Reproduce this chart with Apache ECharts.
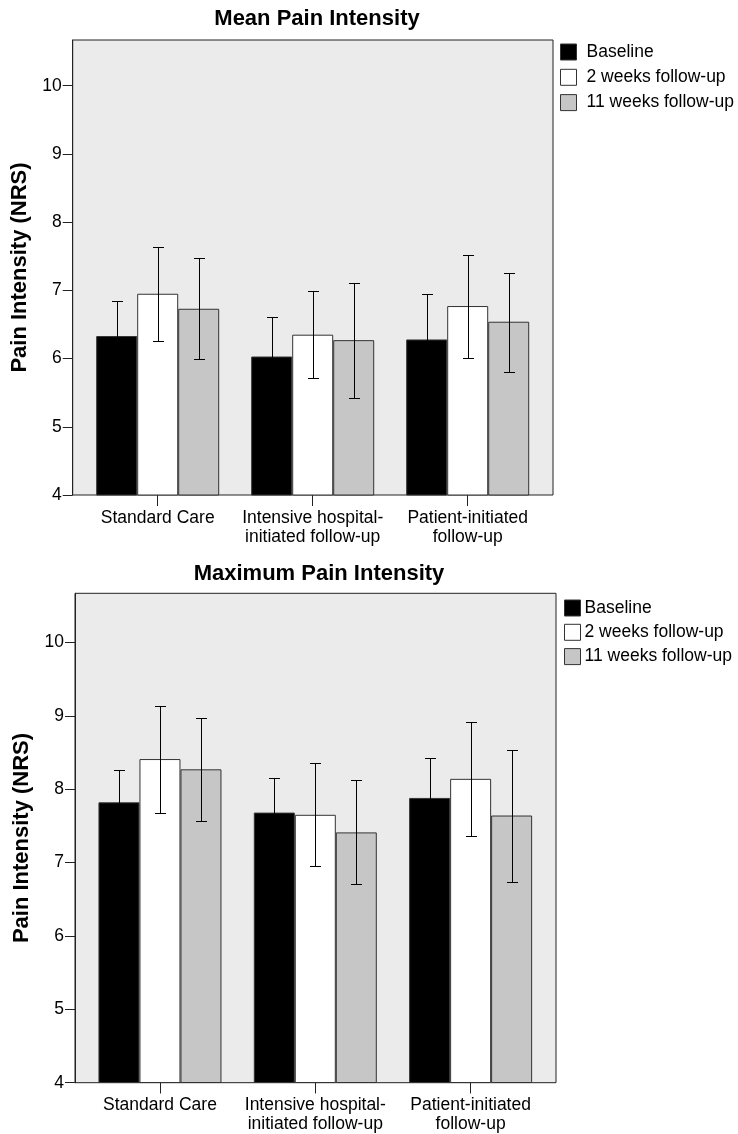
<!DOCTYPE html>
<html>
<head>
<meta charset="utf-8">
<script src="https://cdn.jsdelivr.net/npm/echarts@6/dist/echarts.min.js"></script>
<style>
  html, body { margin: 0; padding: 0; background: #fff; }
  #chart { width: 738px; height: 1134px; }
</style>
</head>
<body>
<div id="chart"></div>
<script>
// 資料
const categories = ['Standard Care', 'Intensive hospital-\ninitiated follow-up', 'Patient-initiated\nfollow-up'];
const seriesNames = ['Baseline', '2 weeks follow-up', '11 weeks follow-up'];
const yTicks = [4, 5, 6, 7, 8, 9, 10];

// Mean Pain Intensity
const meanBaseline = [6.33, 6.03, 6.28];
const meanWeek2 = [6.95, 6.35, 6.77];
const meanWeek11 = [6.73, 6.27, 6.54];
const meanBaselineLow = [5.82, 5.46, 5.62];
const meanBaselineHigh = [6.84, 6.61, 6.94];
const meanWeek2Low = [6.26, 5.72, 6.01];
const meanWeek2High = [7.63, 6.99, 7.52];
const meanWeek11Low = [5.99, 5.42, 5.81];
const meanWeek11High = [7.48, 7.11, 7.26];

// Maximum Pain Intensity
const maxBaseline = [7.82, 7.68, 7.88];
const maxWeek2 = [8.41, 7.65, 8.14];
const maxWeek11 = [8.27, 7.41, 7.64];
const maxBaselineLow = [7.38, 7.21, 7.33];
const maxBaselineHigh = [8.26, 8.15, 8.42];
const maxWeek2Low = [7.68, 6.95, 7.36];
const maxWeek2High = [9.14, 8.36, 8.91];
const maxWeek11Low = [7.57, 6.71, 6.74];
const maxWeek11High = [8.97, 8.12, 8.53];

const yMin = 4;
const yMax = 10.67;

const font = 'Liberation Sans, Arial, Helvetica, sans-serif';
const barColors = ['#000000', '#ffffff', '#c5c6c5'];
const BAR_W = 41;

const chart = echarts.init(document.getElementById('chart'));

// 面板設定：box = 灰底外框，data = 長條所在
const panels = [
  {
    title: 'Mean Pain Intensity', titleX: 312, titleTop: 3,
    box: { left: 72.7, top: 40, width: 480.3, height: 455 },
    data: { left: 80.2, width: 465 },
    nameGap: 41,
    legend: { left: 560, top: 43, itemGap: 7.3, textGap: 10 },
    values: [meanBaseline, meanWeek2, meanWeek11],
    lows: [meanBaselineLow, meanWeek2Low, meanWeek11Low],
    highs: [meanBaselineHigh, meanWeek2High, meanWeek11High],
  },
  {
    title: 'Maximum Pain Intensity', titleX: 314, titleTop: 558,
    box: { left: 75, top: 593.3, width: 481, height: 489.4 },
    data: { left: 82.3, width: 466 },
    nameGap: 42,
    legend: { left: 564, top: 599, itemGap: 6.3, textGap: 4 },
    values: [maxBaseline, maxWeek2, maxWeek11],
    lows: [maxBaselineLow, maxWeek2Low, maxWeek11Low],
    highs: [maxBaselineHigh, maxWeek2High, maxWeek11High],
  },
];

const option = {
  animation: false,
  backgroundColor: '#ffffff',
  title: [], grid: [], xAxis: [], yAxis: [], legend: [], series: [],
};

panels.forEach((p, pi) => {
  const boxIdx = pi * 2;
  const dataIdx = pi * 2 + 1;

  option.title.push({
    text: p.title,
    left: p.titleX,
    top: p.titleTop,
    textAlign: 'center',
    textStyle: { fontFamily: font, fontSize: 22, fontWeight: 'bold', color: '#000' },
  });

  option.grid.push({
    left: p.box.left, top: p.box.top, width: p.box.width, height: p.box.height,
    show: true, backgroundColor: '#ebebeb', borderColor: '#222', borderWidth: 1,
  });
  option.grid.push({
    left: p.data.left, top: p.box.top, width: p.data.width, height: p.box.height,
  });

  // box 的座標軸：只用 y 軸畫刻度
  option.xAxis.push({ type: 'value', gridIndex: boxIdx, show: false, min: 0, max: 1 });
  option.yAxis.push({
    type: 'value', gridIndex: boxIdx, min: yMin, max: yMax,
    name: 'Pain Intensity (NRS)', nameLocation: 'middle', nameGap: p.nameGap,
    nameTextStyle: { fontFamily: font, fontSize: 22, fontWeight: 'bold', color: '#000' },
    axisLine: { show: true, lineStyle: { color: '#222', width: 1 } },
    axisTick: { show: true, length: 10, customValues: yTicks, lineStyle: { color: '#222' } },
    axisLabel: { margin: 11, customValues: yTicks, fontFamily: font, fontSize: 17.5, color: '#000' },
    splitLine: { show: false },
  });

  // data 的座標軸
  option.xAxis.push({
    type: 'category', gridIndex: dataIdx, data: categories,
    axisLine: { show: false },
    axisTick: { show: true, alignWithLabel: true, length: 11, lineStyle: { color: '#222' } },
    axisLabel: { margin: 13.5, fontFamily: font, fontSize: 17.5, lineHeight: 19, color: '#000', interval: 0 },
  });
  option.yAxis.push({ type: 'value', gridIndex: dataIdx, min: yMin, max: yMax, show: false });

  option.legend.push({
    orient: 'vertical', left: p.legend.left, top: p.legend.top,
    itemWidth: 16, itemHeight: 16, itemGap: p.legend.itemGap, padding: 0,
    icon: 'rect',
    itemStyle: { borderWidth: 1, borderColor: '#333' },
    data: seriesNames.map((n) => ({ name: n })),
    textStyle: { fontFamily: font, fontSize: 17.5, color: '#000', padding: [0, 0, 0, p.legend.textGap - 5] },
  });

  seriesNames.forEach((name, si) => {
    option.series.push({
      type: 'bar', name,
      xAxisIndex: dataIdx, yAxisIndex: dataIdx,
      data: p.values[si],
      barWidth: BAR_W, barGap: '0%',
      itemStyle: { color: barColors[si], borderColor: '#333', borderWidth: 1 },
    });
  });

  // 誤差線
  seriesNames.forEach((name, si) => {
    const offset = (si - 1) * BAR_W;
    option.series.push({
      type: 'custom',
      xAxisIndex: dataIdx, yAxisIndex: dataIdx,
      z: 10,
      silent: true,
      data: categories.map((c, ci) => [ci, p.lows[si][ci], p.highs[si][ci]]),
      renderItem: (params, api) => {
        const x = Math.round(api.coord([api.value(0), yMin])[0] + offset) + 0.5;
        const yLo = Math.round(api.coord([api.value(0), api.value(1)])[1]) + 0.5;
        const yHi = Math.round(api.coord([api.value(0), api.value(2)])[1]) + 0.5;
        const hw = 5.5;
        const style = { stroke: '#000', lineWidth: 1 };
        return {
          type: 'group',
          children: [
            { type: 'line', shape: { x1: x, y1: yLo, x2: x, y2: yHi }, style },
            { type: 'line', shape: { x1: x - hw, y1: yHi, x2: x + hw, y2: yHi }, style },
            { type: 'line', shape: { x1: x - hw, y1: yLo, x2: x + hw, y2: yLo }, style },
          ],
        };
      },
    });
  });
});

chart.setOption(option);
</script>
</body>
</html>
